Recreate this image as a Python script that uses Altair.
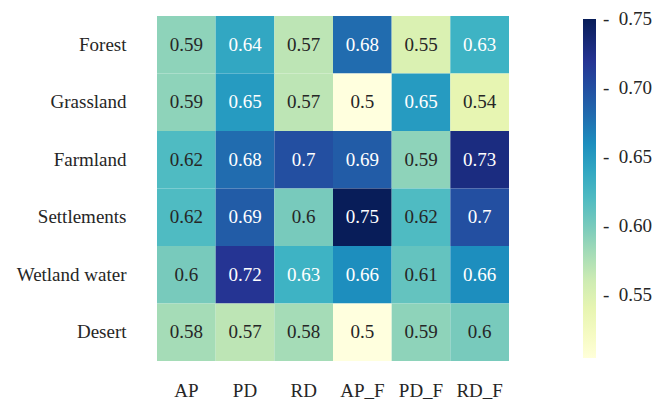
import altair as alt
import pandas as pd

rows = ["Forest", "Grassland", "Farmland", "Settlements", "Wetland water", "Desert"]
cols = ["AP", "PD", "RD", "AP_F", "PD_F", "RD_F"]

forest = [0.59, 0.64, 0.57, 0.68, 0.55, 0.63]
grassland = [0.59, 0.65, 0.57, 0.50, 0.65, 0.54]
farmland = [0.62, 0.68, 0.70, 0.69, 0.59, 0.73]
settlements = [0.62, 0.69, 0.60, 0.75, 0.62, 0.70]
wetland = [0.60, 0.72, 0.63, 0.66, 0.61, 0.66]
desert = [0.58, 0.57, 0.58, 0.50, 0.59, 0.60]

legend_ticks = [0.55, 0.60, 0.65, 0.70, 0.75]

# ColorBrewer YlGnBu (9 classes), as used by matplotlib
ylgnbu = ["#ffffd9", "#edf8b1", "#c7e9b4", "#7fcdbb", "#41b6c4",
          "#1d91c0", "#225ea8", "#253494", "#081d58"]
vmin, vmax = 0.504, 0.7503

matrix = [forest, grassland, farmland, settlements, wetland, desert]
records = []
for r, vals in zip(rows, matrix):
    for c, v in zip(cols, vals):
        records.append({"row": r, "col": c, "value": v})
df = pd.DataFrame(records)

n = len(ylgnbu)
stops = [vmin + (vmax - vmin) * i / (n - 1) for i in range(n)]

FONT = "Liberation Serif"
TXT = "#262626"
FS = 19

base = alt.Chart(df).encode(
    x=alt.X("col:N", sort=cols, title=None,
            axis=alt.Axis(labelAngle=0, ticks=False, domain=False, labelPadding=20,
                          labelFontSize=FS, labelFont=FONT, labelColor=TXT)),
    y=alt.Y("row:N", sort=rows, title=None,
            axis=alt.Axis(ticks=False, domain=False, labelPadding=31,
                          labelFontSize=FS, labelFont=FONT, labelColor=TXT)),
)

rect = base.mark_rect().encode(
    color=alt.Color("value:Q",
                    scale=alt.Scale(domain=stops, range=ylgnbu, interpolate="rgb"),
                    legend=alt.Legend(title=None, orient="none", direction="vertical",
                                      legendX=426, legendY=3,
                                      gradientLength=339, gradientThickness=13,
                                      gradientStrokeWidth=0,
                                      values=legend_ticks,
                                      labelExpr="'-\u00a0\u00a0' + format(datum.value, '.2f')",
                                      labelFontSize=FS, labelFont=FONT, labelColor=TXT,
                                      labelOffset=7, labelBaseline="middle",
                                      labelOverlap=False))
)

text = base.mark_text(font=FONT, fontSize=FS).encode(
    text=alt.Text("value:Q", format=".2~f"),
    color=alt.condition(alt.datum.value >= 0.625, alt.value("white"), alt.value(TXT)),
)

chart = (rect + text).properties(
    width=352, height=345,
    autosize=alt.AutoSizeParams(type="none"),
    padding={"left": 149, "top": 8, "right": 143, "bottom": 41},
).configure_view(stroke=None).configure_axis(grid=False)

chart.save("out.html", embed_options={"renderer": "svg", "actions": False})
